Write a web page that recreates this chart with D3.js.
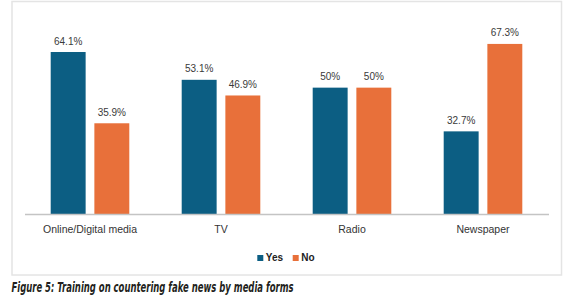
<!DOCTYPE html>
<html>
<head>
<meta charset="utf-8">
<script src="https://cdn.jsdelivr.net/npm/d3@7"></script>
<style>
	body { margin: 0; background: #fff; }
	svg { display: block; }
</style>
</head>
<body>
<svg id="svg"></svg>
<script>
var width = 567, height = 301;

var categories = ["Online/Digital media", "TV", "Radio", "Newspaper"];
var series = ["Yes", "No"];
var yesValues = [64.1, 53.1, 50, 32.7];
var noValues = [35.9, 46.9, 50, 67.3];
var valueLabels = {
	Yes: ["64.1%", "53.1%", "50%", "32.7%"],
	No: ["35.9%", "46.9%", "50%", "67.3%"]
};
var caption = "Figure 5: Training on countering fake news by media forms";

var colors = { Yes: "#0c5e83", No: "#e8703a" };

var svg = d3.select("#svg")
	.attr("width", width)
	.attr("height", height);

// chart frame
svg.append("rect")
	.attr("x", 12)
	.attr("y", 1.5)
	.attr("width", 549.5)
	.attr("height", 273.5)
	.attr("fill", "#fff")
	.attr("stroke", "#e4e4e4")
	.attr("stroke-width", 1.5);

var data = categories.map(function(c, i) {
	return { cat: c, i: i, Yes: yesValues[i], No: noValues[i] };
});

var x0 = d3.scaleBand()
	.domain(categories)
	.range([24.5, 548.5])
	.padding(0);

var x1 = d3.scaleBand()
	.domain(series)
	.range([0, 78.6])
	.paddingInner(0.2);

var groupOffset = (x0.bandwidth() - 78.6) / 2;

var y = d3.scaleLinear()
	.domain([0, 70])
	.range([214, 37.1]);

var group = svg.selectAll(".group")
	.data(data)
	.enter()
	.append("g")
	.attr("class", "group")
	.attr("transform", function(d) { return "translate(" + (x0(d.cat) + groupOffset) + ",0)"; });

group.selectAll("rect")
	.data(function(d) { return series.map(function(s) { return { s: s, v: d[s], i: d.i }; }); })
	.enter()
	.append("rect")
	.attr("x", function(d) { return x1(d.s); })
	.attr("y", function(d) { return y(d.v); })
	.attr("width", x1.bandwidth())
	.attr("height", function(d) { return y(0) - y(d.v); })
	.attr("fill", function(d) { return colors[d.s]; });

group.selectAll("text")
	.data(function(d) { return series.map(function(s) { return { s: s, v: d[s], i: d.i }; }); })
	.enter()
	.append("text")
	.attr("x", function(d) { return x1(d.s) + x1.bandwidth() / 2; })
	.attr("y", function(d) { return y(d.v) - 7.5; })
	.attr("text-anchor", "middle")
	.attr("font-family", "Liberation Sans, Arial, sans-serif")
	.attr("font-size", "10px")
	.attr("fill", "#3a3a3a")
	.text(function(d) { return valueLabels[d.s][d.i]; });

// x axis
var xAxis = d3.axisBottom(x0)
	.tickSize(0)
	.tickPadding(12);

var axisG = svg.append("g")
	.attr("transform", "translate(0," + y(0) + ")")
	.call(xAxis);

axisG.select(".domain")
	.attr("stroke", "#c4c4c4")
	.attr("stroke-width", 1.4);

axisG.selectAll("text")
	.attr("font-family", "Liberation Sans, Arial, sans-serif")
	.attr("font-size", "10.5px")
	.attr("fill", "#333");

// legend
var legendItems = [
	{ s: "Yes", x: 257.3 },
	{ s: "No", x: 292.7 }
];
var legend = svg.selectAll(".legend")
	.data(legendItems)
	.enter()
	.append("g")
	.attr("class", "legend")
	.attr("transform", function(d) { return "translate(" + d.x + ",255)"; });

legend.append("rect")
	.attr("width", 6)
	.attr("height", 6)
	.attr("fill", function(d) { return colors[d.s]; });

legend.append("text")
	.attr("x", 8.5)
	.attr("y", 6.3)
	.attr("font-family", "Liberation Sans, Arial, sans-serif")
	.attr("font-weight", "bold")
	.attr("font-size", "10px")
	.attr("fill", "#222")
	.text(function(d) { return d.s; });

// caption
svg.append("text")
	.attr("x", 11.5)
	.attr("y", 292)
	.attr("font-family", "Liberation Sans Narrow, DejaVu Sans Condensed, sans-serif")
	.attr("font-weight", "bold")
	.attr("font-style", "italic")
	.attr("font-size", "13.5px")
	.attr("fill", "#231f20")
	.attr("textLength", 282)
	.attr("lengthAdjust", "spacingAndGlyphs")
	.text(caption);
</script>
</body>
</html>
